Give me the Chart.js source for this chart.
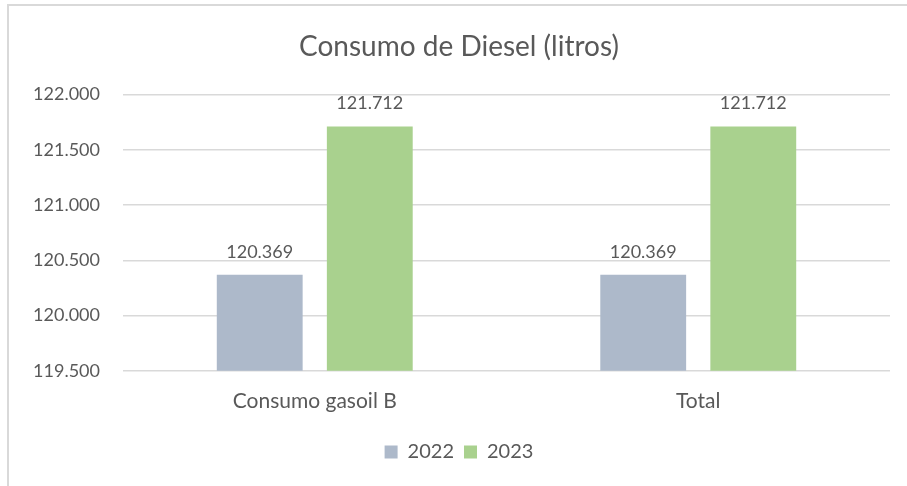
<!DOCTYPE html>
<html>
<head>
<meta charset="utf-8">
<script src="https://cdn.jsdelivr.net/npm/chart.js@4/dist/chart.umd.min.js"></script>
<style>
  html, body { margin: 0; padding: 0; background: #fff; }
  #frame {
    position: absolute; left: 7px; top: 4px; width: 940px; height: 520px;
    border-left: 2px solid #d9d9d9; border-top: 2px solid #d9d9d9;
  }
  #wrap { position: absolute; left: 0; top: 0; width: 907px; height: 486px; }
</style>
</head>
<body>
<div id="frame"></div>
<div id="wrap"><canvas id="dieselChart"></canvas></div>
<script>
// Chart data
const categories = ['Consumo gasoil B', 'Total'];
const series2022 = [120369, 120369];
const series2023 = [121712, 121712];
const seriesNames = ['2022', '2023'];
const yMin = 119500;
const yMax = 122000;
const yStep = 500;

const textColor = '#595959';
const fontFamily = 'Lato, "Open Sans", sans-serif';

// Format numbers with dot as thousands separator
function fmt(v) {
    return Math.round(v).toString().replace(/\B(?=(\d{3})+(?!\d))/g, '.');
}

// Simple data label plugin: value above each bar
const barLabels = {
    id: 'barLabels',
    afterDatasetsDraw(chart) {
        const c = chart.ctx;
        c.save();
        c.fillStyle = textColor;
        c.font = '18px ' + fontFamily;
        c.textAlign = 'center';
        c.textBaseline = 'alphabetic';
        chart.data.datasets.forEach((ds, i) => {
            chart.getDatasetMeta(i).data.forEach((bar, j) => {
                c.fillText(fmt(ds.data[j]), bar.x, bar.y - 17);
            });
        });
        c.restore();
    }
};

const ctx = document.getElementById('dieselChart').getContext('2d');
new Chart(ctx, {
    type: 'bar',
    data: {
        labels: categories,
        datasets: [
            {
                label: seriesNames[0],
                data: series2022,
                backgroundColor: '#adb9ca',
                categoryPercentage: 0.574,
                barPercentage: 0.78
            },
            {
                label: seriesNames[1],
                data: series2023,
                backgroundColor: '#a9d18e',
                categoryPercentage: 0.574,
                barPercentage: 0.78
            }
        ]
    },
    options: {
        responsive: true,
        maintainAspectRatio: false,
        animation: false,
        // left padding keeps title and legend centred like the original frame
        layout: { padding: { left: 28, right: 17, top: 22, bottom: 14 } },
        plugins: {
            title: {
                display: true,
                text: 'Consumo de Diesel (litros)',
                color: textColor,
                font: { family: fontFamily, size: 28, weight: 'normal' },
                padding: { top: 8, bottom: 31 }
            },
            legend: {
                position: 'bottom',
                labels: {
                    color: textColor,
                    font: { family: fontFamily, size: 20 },
                    boxWidth: 13,
                    boxHeight: 13,
                    padding: 10
                }
            },
            tooltip: { enabled: false }
        },
        scales: {
            x: {
                grid: { display: false, drawTicks: false },
                border: { display: false },
                ticks: {
                    color: textColor,
                    font: { family: fontFamily, size: 21 },
                    padding: 18
                }
            },
            y: {
                min: yMin,
                max: yMax,
                afterFit: scale => { scale.width = 95; },
                grid: { color: '#d9d9d9', lineWidth: 1.5, drawTicks: false },
                border: { display: false },
                ticks: {
                    stepSize: yStep,
                    color: textColor,
                    font: { family: fontFamily, size: 18 },
                    padding: 23,
                    callback: v => fmt(v)
                }
            }
        }
    },
    plugins: [barLabels]
});
</script>
</body>
</html>
